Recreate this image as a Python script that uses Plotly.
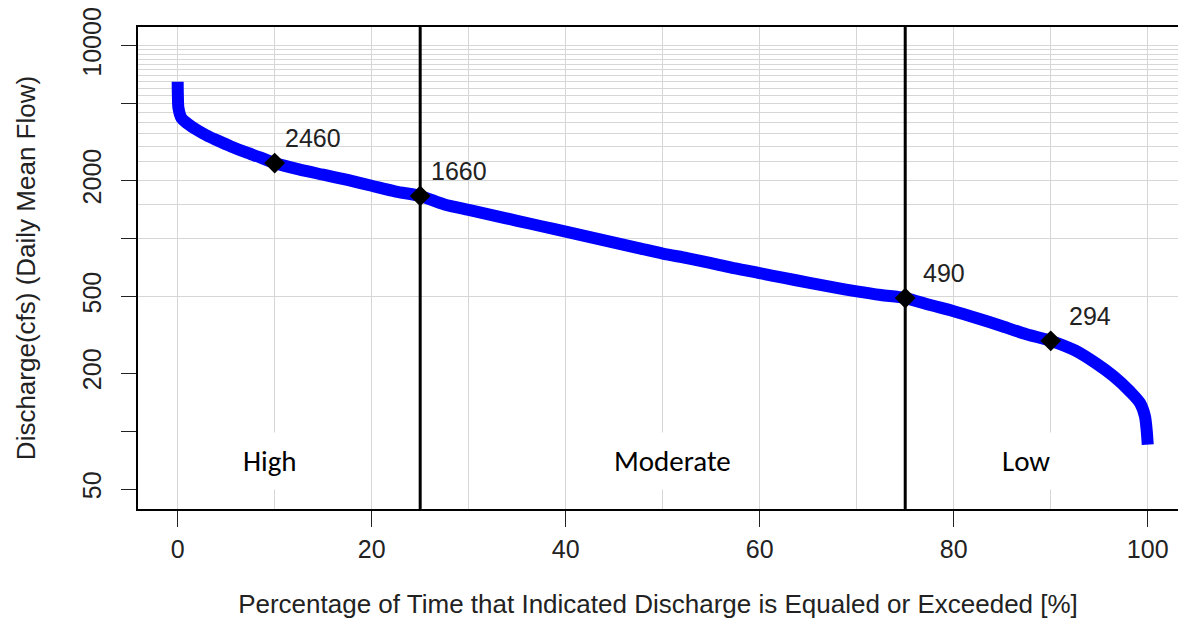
import numpy as np
import plotly.graph_objects as go

# ---- data ----
pct = [0, 0.02, 0.08, 0.4, 1.0, 2.0, 3.0, 4.0, 5.5, 7.0, 8.5, 10,
       12.5, 15, 17.5, 20, 22.5, 25, 27.5, 30, 32.5, 35, 37.5, 40,
       42.5, 45, 47.5, 50, 52.5, 55, 57.5, 60, 62.5, 65, 67.5, 70,
       72.5, 75, 77.5, 80, 82.5, 85, 87.5, 90, 92.5, 94.7, 96.5, 98.2,
       99.2, 99.7, 99.9, 100]
discharge = [6500, 5550, 4750, 4200, 3950, 3650, 3420, 3240, 3000, 2800, 2630, 2460,
             2280, 2140, 2010, 1875, 1750, 1660, 1500, 1406, 1318, 1234, 1156, 1084,
             1015, 951, 891, 834, 790, 745, 698, 660, 623, 590, 558, 531,
             508, 490, 452, 419, 384, 350, 318, 294, 262, 224, 192, 160,
             140, 120, 100, 85]

mark_pct = [10, 25, 75, 90]
mark_val = [2460, 1660, 490, 294]
mark_txt = ["2460", "1660", "490", "294"]

split_pct = [25, 75]

region_txt = ["High", "Moderate", "Low"]
region_x = [9.5, 51, 87.4]
region_y = 70

y_tickvals = [50, 100, 200, 500, 1000, 2000, 5000, 10000]
y_ticktext = ["50", "", "200", "500", "", "2000", "", "10000"]
y_gridvals = list(range(500, 10001, 500))
x_tickvals = [0, 20, 40, 60, 80, 100]
x_gridminor = [10, 30, 50, 70, 90]

# ---- styles ----
AX_FONT = "Liberation Sans, Arial, sans-serif"
TXT = "#222222"
GRID = "#d6d6d6"
LABEL_DX = 4

fig = go.Figure()

fig.add_trace(go.Scatter(
    x=pct, y=discharge, mode="lines",
    line=dict(color="#0000FF", width=12, shape="spline", smoothing=0.8),
    hoverinfo="skip", showlegend=False))

fig.add_trace(go.Scatter(
    x=mark_pct, y=mark_val, mode="markers",
    marker=dict(symbol="diamond", size=16, color="black"),
    hoverinfo="skip", showlegend=False))

for xv in split_pct:
    fig.add_shape(type="line", xref="x", yref="paper", x0=xv, x1=xv, y0=0, y1=1,
                  line=dict(color="black", width=3), layer="above")

for p, v, t in zip(mark_pct, mark_val, mark_txt):
    fig.add_annotation(x=p + LABEL_DX, y=np.log10(v), text=t, showarrow=False,
                       yshift=25, font=dict(family=AX_FONT, size=25, color=TXT))

for t, xv in zip(region_txt, region_x):
    fig.add_annotation(x=xv, y=np.log10(region_y), text=t, showarrow=False,
                       bgcolor="white", borderpad=10,
                       font=dict(family="Carlito, Lato, sans-serif", size=29, color="black"))

fig.update_xaxes(
    range=[-4.09, 103.12],
    tickmode="array", tickvals=x_tickvals,
    ticks="outside", ticklen=16, tickwidth=1.3, tickcolor="#222",
    showline=True, linecolor="black", linewidth=1.5, mirror=True,
    showgrid=True, gridcolor=GRID, gridwidth=1, zeroline=False,
    minor=dict(tickmode="array", tickvals=x_gridminor, showgrid=True,
               gridcolor=GRID, gridwidth=1, ticks=""),
    tickfont=dict(family=AX_FONT, size=25, color=TXT),
    ticklabelstandoff=1,
    title=dict(text="Percentage of Time that Indicated Discharge is Equaled or Exceeded [%]",
               font=dict(family=AX_FONT, size=26, color=TXT), standoff=33),
)

fig.update_yaxes(
    type="log", range=[1.5955, 4.097],
    tickmode="array", tickvals=y_tickvals, ticktext=y_ticktext,
    tickangle=-90,
    ticks="outside", ticklen=15, tickwidth=1.3, tickcolor="#222",
    showline=True, linecolor="black", linewidth=1.5, mirror=False,
    showgrid=False, zeroline=False,
    minor=dict(tickmode="array", tickvals=y_gridvals, showgrid=True,
               gridcolor=GRID, gridwidth=1, ticks=""),
    tickfont=dict(family=AX_FONT, size=25, color=TXT),
    ticklabelstandoff=10,
    title=dict(text="Discharge(cfs) (Daily Mean Flow)",
               font=dict(family=AX_FONT, size=26, color=TXT), standoff=35),
)

fig.update_layout(
    width=1178, height=639,
    margin=dict(l=138, r=0, t=27, b=130),
    paper_bgcolor="white", plot_bgcolor="white",
    showlegend=False,
)

fig.write_html("out.html")
